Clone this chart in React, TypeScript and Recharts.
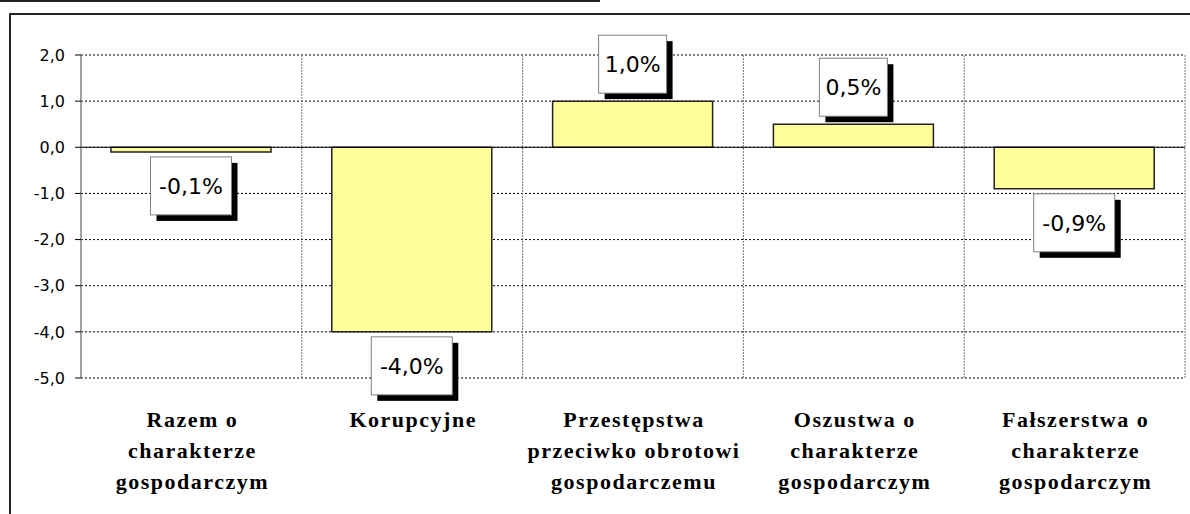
import React from 'react';
import {
  BarChart,
  Bar,
  XAxis,
  YAxis,
  CartesianGrid,
  ReferenceLine,
  LabelList,
} from 'recharts';

const categories = [
  'Razem o\ncharakterze\ngospodarczym',
  'Korupcyjne',
  'Przestępstwa\nprzeciwko obrotowi\ngospodarczemu',
  'Oszustwa o\ncharakterze\ngospodarczym',
  'Fałszerstwa o\ncharakterze\ngospodarczym',
];
const changes = [-0.1, -4.0, 1.0, 0.5, -0.9];
const yTicks = [-5, -4, -3, -2, -1, 0, 1, 2];

const data = categories.map((name, i) => ({ name, value: changes[i] }));

const fmt = (v: number) => v.toFixed(1).replace('.', ',');

const CategoryTick = (props: any) => {
  const { x, y, payload } = props;
  const lines = String(payload.value).split('\n');
  return (
    <g>
      {lines.map((line, i) => (
        <text
          key={i}
          x={x + 1}
          y={y + 41 + i * 31}
          textAnchor="middle"
          fontFamily="'Liberation Serif', serif"
          fontWeight="bold"
          fontSize={22}
          letterSpacing={1.5}
          fill="#000"
        >
          {line}
        </text>
      ))}
    </g>
  );
};

const ValueBox = (props: any) => {
  const { x, y, width, height, value } = props;
  const text = fmt(value) + '%';
  const w = text.length * 13 + 16;
  const h = 58;
  const cx = x + width / 2;
  const top = Math.min(y, y + height);
  const bottom = Math.max(y, y + height);
  const by = value >= 0 ? top - 8 - h : bottom + 5;
  const bx = cx - w / 2;
  return (
    <g>
      <rect x={bx + 6} y={by + 6} width={w} height={h} fill="#000" />
      <rect x={bx} y={by} width={w} height={h} fill="#fff" stroke="#808080" strokeWidth={1} />
      <text
        x={cx}
        y={by + h / 2 + 8}
        textAnchor="middle"
        fontFamily="'DejaVu Sans', sans-serif"
        fontSize={22}
        fill="#000"
      >
        {text}
      </text>
    </g>
  );
};

const App: React.FC = () => {
  return (
    <div style={{ position: 'absolute', left: 0, top: 0, width: 1190, height: 514, overflow: 'hidden', background: '#fff' }}>
      <div style={{ position: 'absolute', left: 0, top: 0, width: 600, height: 2, background: '#222' }} />
      <div
        style={{
          position: 'absolute',
          left: 9,
          top: 13,
          width: 1200,
          height: 520,
          borderLeft: '2px solid #222',
          borderTop: '2px solid #222',
        }}
      />
      <div style={{ position: 'absolute', left: 0, top: 0 }}>
        <BarChart
          width={1190}
          height={514}
          data={data}
          margin={{ top: 55, right: 5, left: 11, bottom: 6 }}
        >
          <CartesianGrid
            vertical={false}
            stroke="#000"
            strokeDasharray="2 2"
          />
          <CartesianGrid
            horizontal={false}
            stroke="#777"
            strokeDasharray="2 1"
            verticalCoordinatesGenerator={({ offset }: any) =>
              categories.map((_, i) => offset.left + ((i + 1) * offset.width) / categories.length)
            }
          />
          <XAxis
            dataKey="name"
            axisLine={false}
            tickLine={false}
            height={130}
            interval={0}
            tick={<CategoryTick />}
          />
          <YAxis
            width={70}
            domain={[-5, 2]}
            ticks={yTicks}
            interval={0}
            tickFormatter={fmt}
            axisLine={{ stroke: '#808080', strokeWidth: 1.5 }}
            tickLine={{ stroke: '#000' }}
            tickSize={6}
            tickMargin={10}
            tick={{ fontFamily: "'DejaVu Sans', sans-serif", fontSize: 16, fill: '#000' }}
          />
          <ReferenceLine y={0} stroke="#000" strokeWidth={1} />
          <Bar
            dataKey="value"
            barSize={160}
            fill="#FFFF99"
            stroke="#222"
            strokeWidth={1.5}
            isAnimationActive={false}
          >
            <LabelList dataKey="value" content={<ValueBox />} />
          </Bar>
        </BarChart>
      </div>
    </div>
  );
};

export default App;
